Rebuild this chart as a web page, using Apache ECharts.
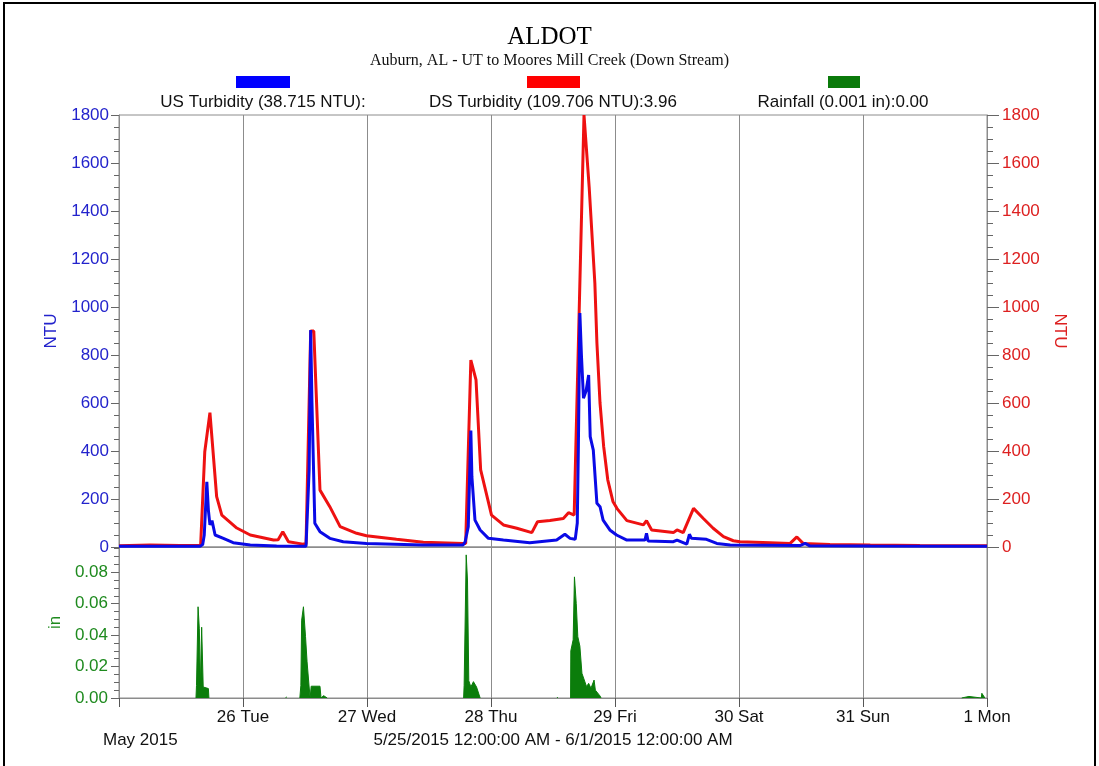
<!DOCTYPE html>
<html>
<head>
<meta charset="utf-8">
<script src="https://cdn.jsdelivr.net/npm/echarts@6/dist/echarts.min.js"></script>
<style>
html,body{margin:0;padding:0;background:#fff;}
#chart{width:1099px;height:766px;}
</style>
</head>
<body>
<div id="chart"></div>
<script>
// Hours since 5/25/2015 12:00:00 AM
const dayLabels = ['', '26 Tue', '27 Wed', '28 Thu', '29 Fri', '30 Sat', '31 Sun', '1 Mon'];

const usHours = [0, 15.7, 16.2, 16.5, 17.0, 17.3, 17.6, 18.0, 18.6, 20.2, 22.1, 25.4, 30.5, 36.2, 36.8, 37.1, 37.35, 37.9, 38.9, 40.8, 43.4, 47.9, 58.8, 66.6, 67.0, 67.6, 68.1, 68.3, 68.9, 69.9, 71.5, 74.4, 79.5, 84.7, 86.3, 87.3, 88.3, 88.7, 88.9, 89.2, 89.5, 89.9, 90.4, 90.9, 91.2, 91.8, 92.5, 93.1, 93.7, 95.0, 96.3, 98.3, 101.8, 102.1, 102.4, 107.3, 108.0, 109.9, 110.4, 110.8, 113.7, 115.7, 118.3, 131.8, 132.8, 133.7, 145.4, 168];
const usValues = [3, 3, 10, 50, 272, 154, 92, 110, 50, 36, 18, 8, 4, 3, 320, 904, 600, 99, 64, 36, 22, 15, 8, 8, 22, 85, 485, 293, 112, 71, 36, 29, 18, 29, 53, 36, 32, 100, 400, 975, 800, 620, 650, 717, 460, 404, 182, 168, 112, 71, 50, 29, 29, 57, 25, 22, 29, 12, 53, 36, 32, 15, 8, 6, 15, 5, 4, 3];

const dsHours = [0, 6.0, 11.8, 15.8, 16.6, 17.6, 18.9, 19.9, 22.8, 25.4, 29.9, 30.8, 31.7, 32.8, 35.6, 36.2, 37.1, 37.7, 38.9, 40.8, 42.8, 46.0, 47.9, 53.7, 58.9, 66.6, 67.1, 68.1, 69.1, 70.0, 72.1, 74.4, 77.0, 79.9, 81.0, 83.4, 86.0, 87.0, 88.1, 88.45, 90.0, 91.0, 92.1, 92.5, 93.1, 93.8, 94.6, 95.6, 96.4, 98.3, 101.5, 102.1, 103.1, 107.3, 108.0, 109.2, 111.2, 113.1, 115.0, 117.0, 118.9, 120.2, 126.0, 129.9, 131.2, 132.4, 137.6, 145.4, 155.0, 168];
const dsValues = [5, 8, 6, 6, 397, 560, 210, 133, 79, 50, 29, 30, 64, 22, 12, 12, 900, 900, 237, 168, 85, 57, 47, 32, 20, 15, 15, 779, 696, 321, 133, 92, 78, 60, 105, 110, 119, 143, 133, 140, 1800, 1500, 1100, 850, 600, 420, 280, 190, 160, 110, 92, 110, 71, 60, 71, 60, 161, 119, 78, 43, 26, 22, 18, 15, 42, 15, 10, 8, 6, 5];

// null separates rain events
const rainHours = [14.9, 15.0, 15.3, 15.55, 15.75, 16.0, 16.3, 17.3, 17.4, null, 32.3, 32.4, 32.5, null, 35.0, 35.2, 35.35, 35.7, 36.1, 36.4, 36.8, 37.0, 37.2, 38.9, 39.1, 39.6, 40.3, null, 66.7, 66.8, 67.2, 67.45, 67.7, 68.1, 68.6, 69.2, 69.7, 69.9, null, 84.8, 84.9, 85.0, null, 87.4, 87.45, 87.9, 88.15, 88.5, 88.8, 89.2, 89.6, 90.5, 90.9, 91.35, 91.95, 92.2, 93.1, 93.3, null, 163.1, 163.2, 164.5, 164.6, 166.9, 167.0, 167.6];
const rainValues = [0, 0.008, 0.058, 0.044, 0.008, 0.045, 0.007, 0.006, 0, null, 0, 0.0008, 0, null, 0, 0.008, 0.0495, 0.058, 0.039, 0.023, 0.007, 0, 0.0075, 0.0075, 0, 0.0015, 0, null, 0, 0.008, 0.091, 0.075, 0.011, 0.007, 0.0104, 0.007, 0.002, 0, null, 0, 0.0006, 0, null, 0, 0.030, 0.037, 0.077, 0.060, 0.039, 0.033, 0.0157, 0.0072, 0.0093, 0.0062, 0.0114, 0.005, 0.0013, 0, null, 0, 0.001, 0.001, 0, 0, 0.003, 0];

const ntuTicks = [0, 1800, 200];
const rainTicks = [0, 0.096, 0.02];

function pairs(h, v) { return h.map((x, i) => (x === null ? [null, null] : [x, v[i]])); }

const FONT = 'Liberation Sans, Arial, sans-serif';
const FS = 17;
const GRID_GRAY = '#8c8c8c';
const BLUE = '#0a0ae6';
const RED = '#ee1111';
const GREEN = '#0b7d0b';

const chart = echarts.init(document.getElementById('chart'), null, {renderer: 'canvas'});
chart.setOption({
  backgroundColor: '#fff',
  animation: false,
  title: {
    text: 'ALDOT',
    subtext: 'Auburn, AL - UT to Moores Mill Creek (Down Stream)',
    left: 'center', top: 20, itemGap: 3,
    textStyle: {fontFamily: 'Liberation Serif, Times New Roman, serif', fontWeight: 'normal', fontSize: 25, color: '#000'},
    subtextStyle: {fontFamily: 'Liberation Serif, Times New Roman, serif', fontSize: 16, color: '#111'}
  },
  grid: [
    {left: 119, right: 112, top: 115, height: 432, show: true, borderColor: GRID_GRAY, borderWidth: 1},
    {left: 119, right: 112, top: 547, height: 151, show: true, borderColor: GRID_GRAY, borderWidth: 1}
  ],
  xAxis: [
    {type: 'value', gridIndex: 0, min: 0, max: 168, interval: 24,
     axisLabel: {show: false}, axisTick: {show: false},
     axisLine: {show: true, lineStyle: {color: GRID_GRAY}},
     splitLine: {show: true, lineStyle: {color: GRID_GRAY, width: 1}}},
    {type: 'value', gridIndex: 1, min: 0, max: 168, interval: 24,
     axisLabel: {show: true, margin: 11, fontFamily: FONT, fontSize: FS, color: '#111',
       formatter: v => dayLabels[Math.round(v / 24)] || ''},
     axisTick: {show: true, length: 9, lineStyle: {color: '#555'}},
     axisLine: {show: true, lineStyle: {color: GRID_GRAY}},
     splitLine: {show: true, lineStyle: {color: GRID_GRAY, width: 1}}}
  ],
  yAxis: [
    {type: 'value', gridIndex: 0, position: 'left', min: ntuTicks[0], max: ntuTicks[1], interval: ntuTicks[2],
     name: 'NTU', nameLocation: 'middle', nameGap: 58, nameRotate: 90,
     nameTextStyle: {fontFamily: FONT, fontSize: FS, color: '#2323cc'},
     axisLabel: {margin: 10, fontFamily: FONT, fontSize: FS, color: '#2323cc', formatter: v => String(v)},
     axisLine: {show: true, lineStyle: {color: GRID_GRAY}},
     axisTick: {show: true, length: 8, lineStyle: {color: '#666'}},
     minorTick: {show: true, splitNumber: 4, length: 5, lineStyle: {color: '#666'}},
     splitLine: {show: false}},
    {type: 'value', gridIndex: 0, position: 'right', min: ntuTicks[0], max: ntuTicks[1], interval: ntuTicks[2],
     name: 'NTU', nameLocation: 'middle', nameGap: 58, nameRotate: -90,
     nameTextStyle: {fontFamily: FONT, fontSize: FS, color: '#dd2020'},
     axisLabel: {margin: 15, fontFamily: FONT, fontSize: FS, color: '#dd2020', formatter: v => String(v)},
     axisLine: {show: true, lineStyle: {color: GRID_GRAY}},
     axisTick: {show: true, length: 12, lineStyle: {color: '#666'}},
     minorTick: {show: true, splitNumber: 4, length: 6, lineStyle: {color: '#666'}},
     splitLine: {show: false}},
    {type: 'value', gridIndex: 1, position: 'left', min: rainTicks[0], max: rainTicks[1], interval: rainTicks[2],
     name: 'in', nameLocation: 'middle', nameGap: 54, nameRotate: 90,
     nameTextStyle: {fontFamily: FONT, fontSize: FS, color: '#1e8a1e'},
     axisLabel: {margin: 11, fontFamily: FONT, fontSize: FS, color: '#1e8a1e', showMaxLabel: false,
       formatter: v => v.toFixed(2)},
     axisLine: {show: true, lineStyle: {color: GRID_GRAY}},
     axisTick: {show: true, length: 8, lineStyle: {color: '#666'}},
     minorTick: {show: true, splitNumber: 4, length: 5, lineStyle: {color: '#666'}},
     splitLine: {show: false}}
  ],
  series: [
    {name: 'DS Turbidity', type: 'line', xAxisIndex: 0, yAxisIndex: 1, data: pairs(dsHours, dsValues),
     showSymbol: false, z: 2, lineStyle: {color: RED, width: 3}, itemStyle: {color: RED}},
    {name: 'US Turbidity', type: 'line', xAxisIndex: 0, yAxisIndex: 0, data: pairs(usHours, usValues),
     showSymbol: false, z: 3, lineStyle: {color: BLUE, width: 3}, itemStyle: {color: BLUE}},
    {name: 'Rainfall', type: 'line', xAxisIndex: 1, yAxisIndex: 2, data: pairs(rainHours, rainValues),
     showSymbol: false, connectNulls: false, z: 3, lineStyle: {color: GREEN, width: 1},
     areaStyle: {color: GREEN, opacity: 1}, itemStyle: {color: GREEN}}
  ],
  graphic: [
    {type: 'rect', shape: {x: 4, y: 3, width: 1091, height: 770}, style: {fill: 'none', stroke: '#000', lineWidth: 2}, silent: true},
    {type: 'rect', shape: {x: 236, y: 76, width: 54, height: 12}, style: {fill: '#0000ff'}},
    {type: 'rect', shape: {x: 527, y: 76, width: 53, height: 12}, style: {fill: '#ff0000'}},
    {type: 'rect', shape: {x: 828, y: 76, width: 32, height: 12}, style: {fill: '#0a7a0a'}},
    {type: 'text', x: 263, y: 102, style: {text: 'US Turbidity (38.715 NTU):', font: FS + 'px ' + FONT, fill: '#111', textAlign: 'center', textVerticalAlign: 'middle'}},
    {type: 'text', x: 553, y: 102, style: {text: 'DS Turbidity (109.706 NTU):3.96', font: FS + 'px ' + FONT, fill: '#111', textAlign: 'center', textVerticalAlign: 'middle'}},
    {type: 'text', x: 843, y: 102, style: {text: 'Rainfall (0.001 in):0.00', font: FS + 'px ' + FONT, fill: '#111', textAlign: 'center', textVerticalAlign: 'middle'}},
    {type: 'text', x: 103, y: 740, style: {text: 'May 2015', font: FS + 'px ' + FONT, fill: '#111', textAlign: 'left', textVerticalAlign: 'middle'}},
    {type: 'text', x: 553, y: 740, style: {text: '5/25/2015 12:00:00 AM - 6/1/2015 12:00:00 AM', font: FS + 'px ' + FONT, fill: '#111', textAlign: 'center', textVerticalAlign: 'middle'}}
  ]
});
</script>
</body>
</html>
